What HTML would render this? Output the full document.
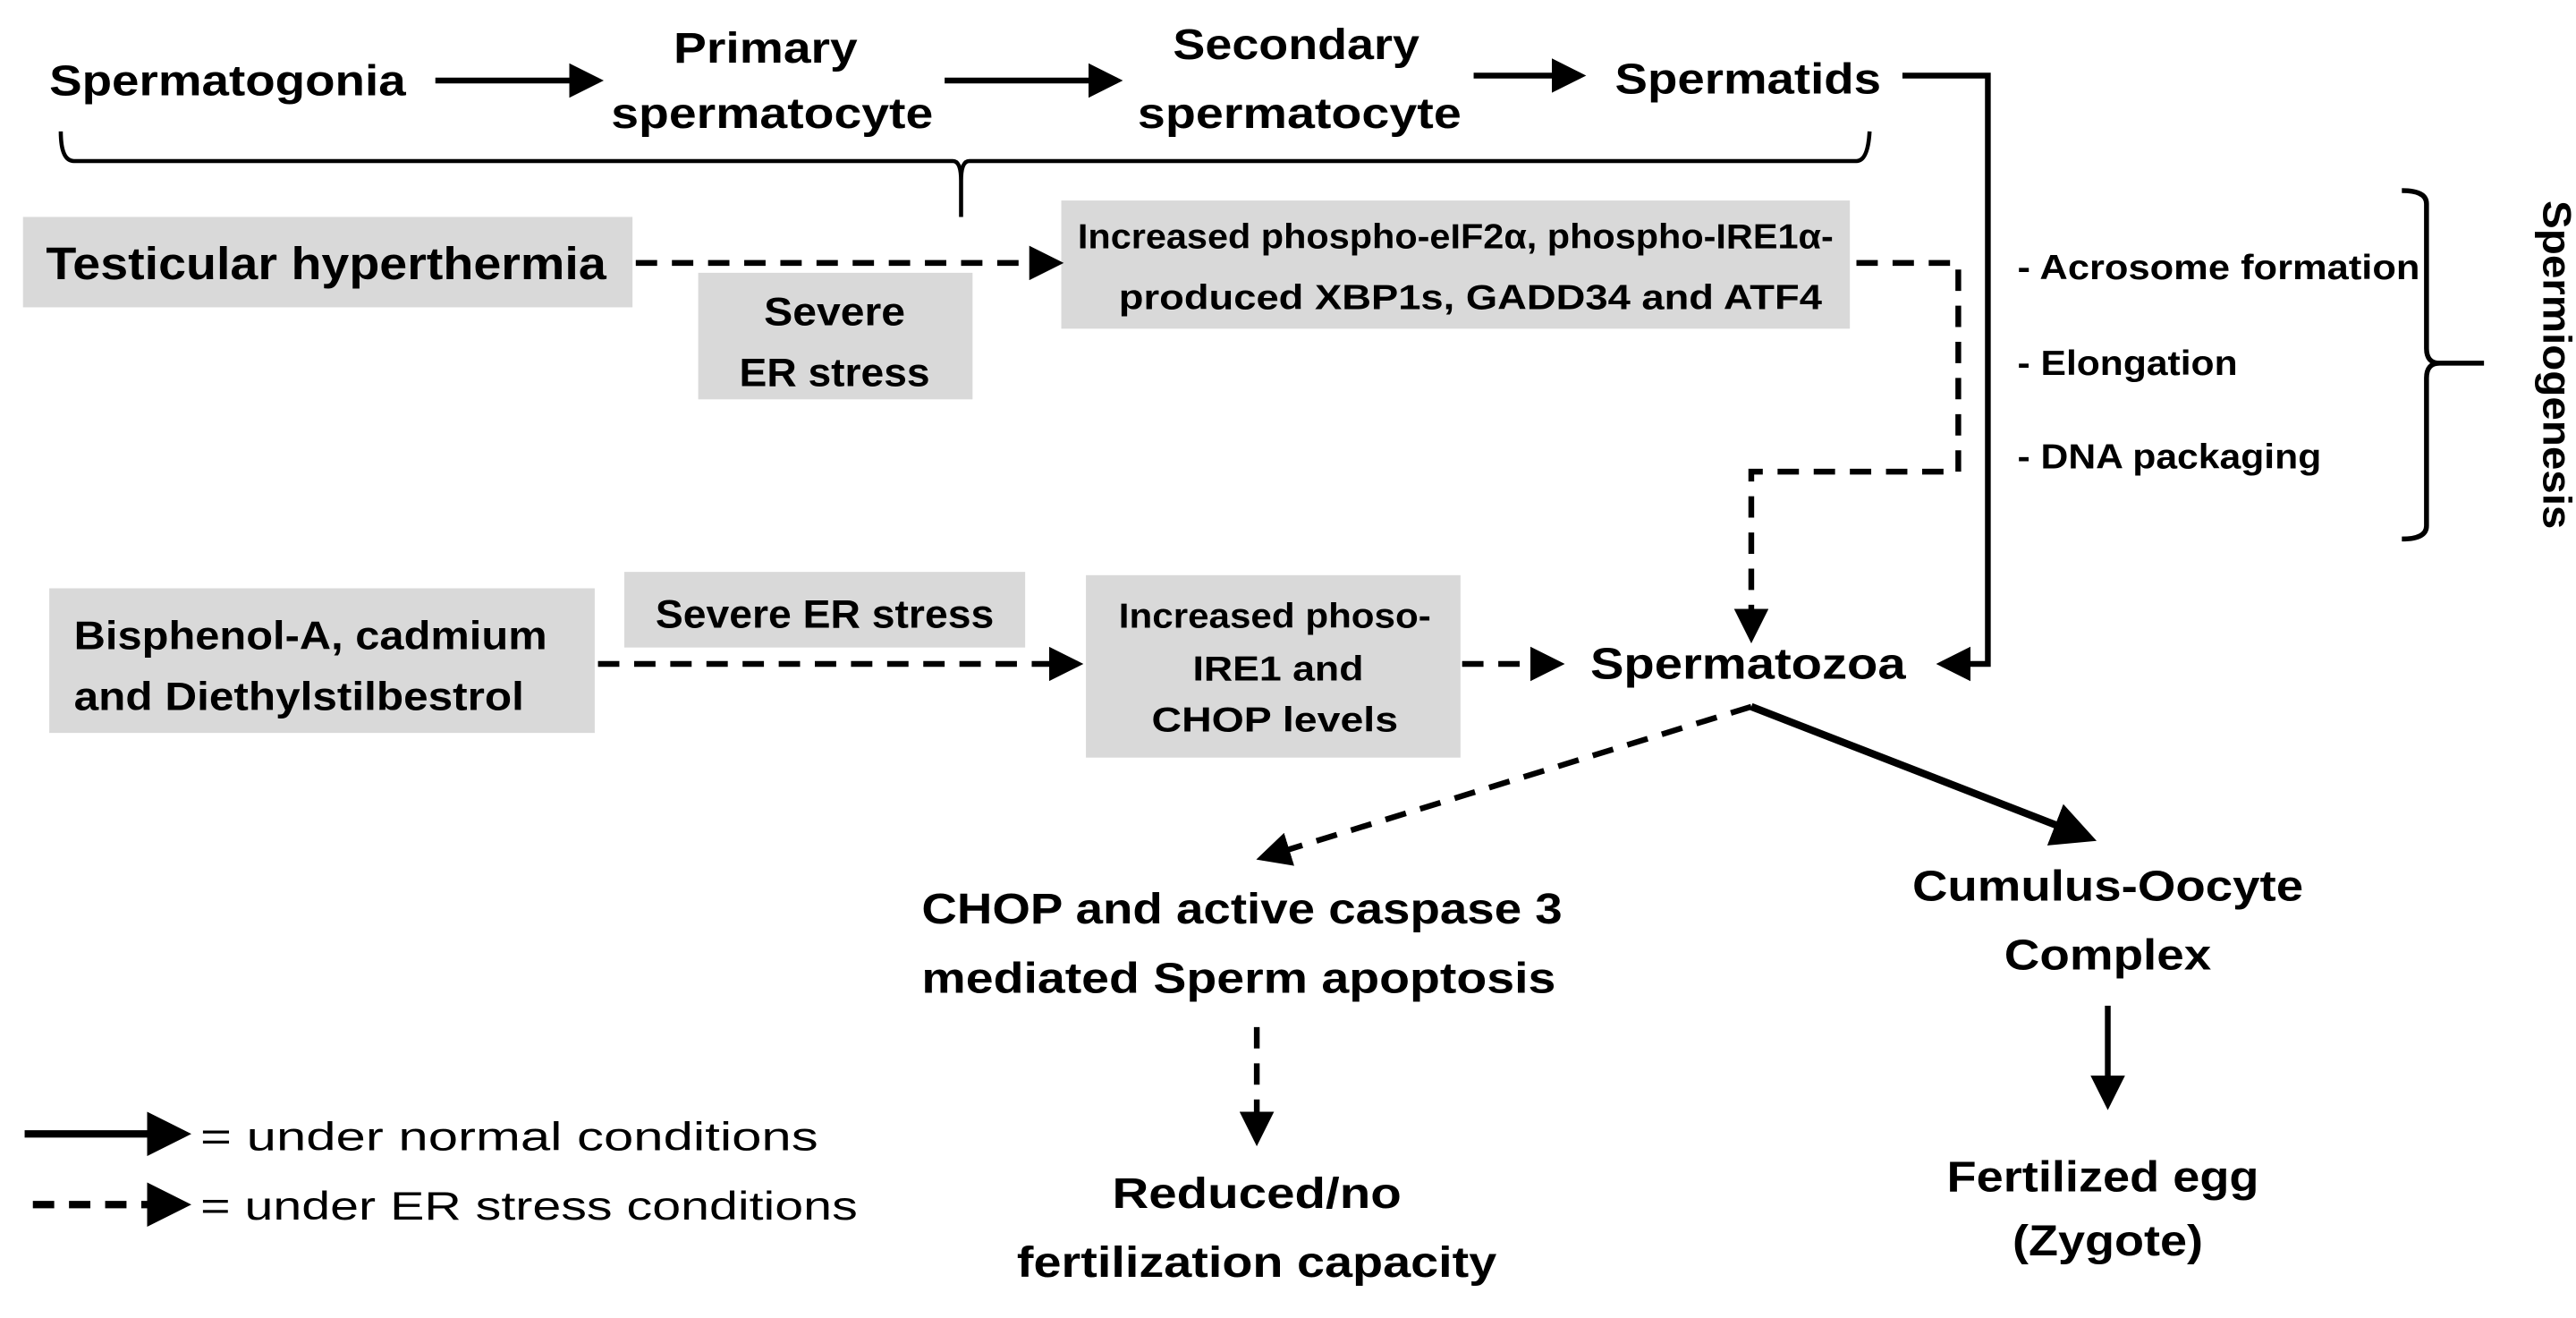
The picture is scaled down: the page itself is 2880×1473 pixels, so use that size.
<!DOCTYPE html>
<html><head><meta charset="utf-8"><style>
html,body{margin:0;padding:0;background:#fff;}
svg{display:block;}
text{font-family:"Liberation Sans",sans-serif;font-weight:bold;fill:#000;}
</style></head><body>
<svg width="2880" height="1473" viewBox="0 0 1568 802" preserveAspectRatio="none" xmlns="http://www.w3.org/2000/svg">
<defs>
<marker id="a" markerWidth="6" markerHeight="6" refX="5" refY="3" orient="auto" markerUnits="strokeWidth"><path d="M0,0 L6,3 L0,6 z" fill="#000"/></marker>
</defs>
<g fill="#d9d9d9">
<rect x="14" y="132" width="371" height="55"/>
<rect x="425" y="166" width="167" height="77"/>
<rect x="646" y="122" width="480" height="78"/>
<rect x="30" y="358" width="332" height="88"/>
<rect x="380" y="348" width="244" height="46"/>
<rect x="661" y="350" width="228" height="111"/>
</g>
<g stroke="#000" stroke-width="3.5" fill="none">
<line x1="265" y1="49" x2="364" y2="49" marker-end="url(#a)"/>
<line x1="575" y1="49" x2="680" y2="49" marker-end="url(#a)"/>
<line x1="897" y1="46" x2="962" y2="46" marker-end="url(#a)"/>
<polyline points="1158,46 1210,46 1210,404 1182,404" marker-end="url(#a)"/>
<line x1="1066" y1="430" x2="1272" y2="510" stroke-width="4.5" marker-end="url(#a)"/>
<line x1="1283" y1="612" x2="1283" y2="672" marker-end="url(#a)"/>
<line x1="15" y1="690" x2="112" y2="690" stroke-width="4.5" marker-end="url(#a)"/>
</g>
<g stroke="#000" stroke-width="3.5" fill="none" stroke-dasharray="13,9">
<line x1="387" y1="160" x2="644" y2="160" marker-end="url(#a)"/>
<polyline points="1130,160 1192,160 1192,287 1066,287 1066,388" marker-end="url(#a)"/>
<line x1="364" y1="404" x2="656" y2="404" marker-end="url(#a)"/>
<line x1="890" y1="404" x2="949" y2="404" marker-end="url(#a)"/>
<line x1="1066" y1="430" x2="768" y2="522" marker-end="url(#a)"/>
<line x1="765" y1="625" x2="765" y2="694" marker-end="url(#a)"/>
<line x1="20" y1="733" x2="112" y2="733" stroke-width="4.5" marker-end="url(#a)"/>
</g>
<g stroke="#000" stroke-width="2.5" fill="none">
<path d="M37,80 Q37,98 45,98 L580,98 Q585,98 585,110 L585,132 M585,110 Q585,98 590,98 L1130,98 Q1137,98 1138,80"/>
<path d="M1462,116 Q1477,116 1477,124 L1477,212 Q1477,221 1485,221 L1512,221 M1485,221 Q1477,221 1477,230 L1477,320 Q1477,328 1462,328" stroke-width="3"/>
</g>
<g font-size="26">
<text x="30" y="58" textLength="217" lengthAdjust="spacingAndGlyphs">Spermatogonia</text>
<text x="466" y="38" text-anchor="middle" textLength="112" lengthAdjust="spacingAndGlyphs">Primary</text>
<text x="470" y="78" text-anchor="middle" textLength="196" lengthAdjust="spacingAndGlyphs">spermatocyte</text>
<text x="789" y="36" text-anchor="middle" textLength="150" lengthAdjust="spacingAndGlyphs">Secondary</text>
<text x="791" y="78" text-anchor="middle" textLength="197" lengthAdjust="spacingAndGlyphs">spermatocyte</text>
<text x="983" y="57" textLength="162" lengthAdjust="spacingAndGlyphs">Spermatids</text>
<text x="968" y="413" font-size="27" textLength="192" lengthAdjust="spacingAndGlyphs">Spermatozoa</text>
<text x="756" y="562" text-anchor="middle" textLength="390" lengthAdjust="spacingAndGlyphs">CHOP and  active caspase 3</text>
<text x="754" y="604" text-anchor="middle" textLength="386" lengthAdjust="spacingAndGlyphs">mediated Sperm apoptosis</text>
<text x="765" y="735" text-anchor="middle" textLength="176" lengthAdjust="spacingAndGlyphs">Reduced/no</text>
<text x="765" y="777" text-anchor="middle" textLength="292" lengthAdjust="spacingAndGlyphs">fertilization capacity</text>
<text x="1283" y="548" text-anchor="middle" textLength="238" lengthAdjust="spacingAndGlyphs">Cumulus-Oocyte</text>
<text x="1283" y="590" text-anchor="middle" textLength="126" lengthAdjust="spacingAndGlyphs">Complex</text>
<text x="1280" y="725" text-anchor="middle" textLength="190" lengthAdjust="spacingAndGlyphs">Fertilized egg</text>
<text x="1283" y="764" text-anchor="middle" textLength="116" lengthAdjust="spacingAndGlyphs">(Zygote)</text>
</g>
<text x="28" y="170" font-size="28" textLength="341" lengthAdjust="spacingAndGlyphs">Testicular hyperthermia</text>
<g font-size="24">
<text x="508" y="198" text-anchor="middle" textLength="86" lengthAdjust="spacingAndGlyphs">Severe</text>
<text x="508" y="235" text-anchor="middle" textLength="116" lengthAdjust="spacingAndGlyphs">ER stress</text>
<text x="45" y="395" textLength="288" lengthAdjust="spacingAndGlyphs">Bisphenol-A, cadmium</text>
<text x="45" y="432" textLength="274" lengthAdjust="spacingAndGlyphs">and Diethylstilbestrol</text>
<text x="502" y="382" text-anchor="middle" textLength="206" lengthAdjust="spacingAndGlyphs">Severe ER stress</text>
<text x="1540" y="222" text-anchor="middle" transform="rotate(90 1540 222)" dy="-8" textLength="200" lengthAdjust="spacingAndGlyphs">Spermiogenesis</text>
</g>
<g font-size="21">
<text x="886" y="151" text-anchor="middle" textLength="460" lengthAdjust="spacingAndGlyphs">Increased phospho-eIF2α, phospho-IRE1α-</text>
<text x="895" y="188" text-anchor="middle" textLength="428" lengthAdjust="spacingAndGlyphs">produced XBP1s, GADD34 and ATF4</text>
<text x="776" y="382" text-anchor="middle" textLength="190" lengthAdjust="spacingAndGlyphs">Increased phoso-</text>
<text x="778" y="414" text-anchor="middle" textLength="104" lengthAdjust="spacingAndGlyphs">IRE1 and</text>
<text x="776" y="445" text-anchor="middle" textLength="150" lengthAdjust="spacingAndGlyphs">CHOP levels</text>
<text x="1228" y="170" textLength="245" lengthAdjust="spacingAndGlyphs">- Acrosome formation</text>
<text x="1228" y="228" textLength="134" lengthAdjust="spacingAndGlyphs">- Elongation</text>
<text x="1228" y="285" textLength="185" lengthAdjust="spacingAndGlyphs">- DNA packaging</text>
</g>
<g font-size="24" style="font-weight:normal">
<text x="122" y="700" style="font-weight:normal" textLength="376" lengthAdjust="spacingAndGlyphs">= under normal conditions</text>
<text x="122" y="742" style="font-weight:normal" textLength="400" lengthAdjust="spacingAndGlyphs">= under ER stress conditions</text>
</g>
</svg>
</body></html>
